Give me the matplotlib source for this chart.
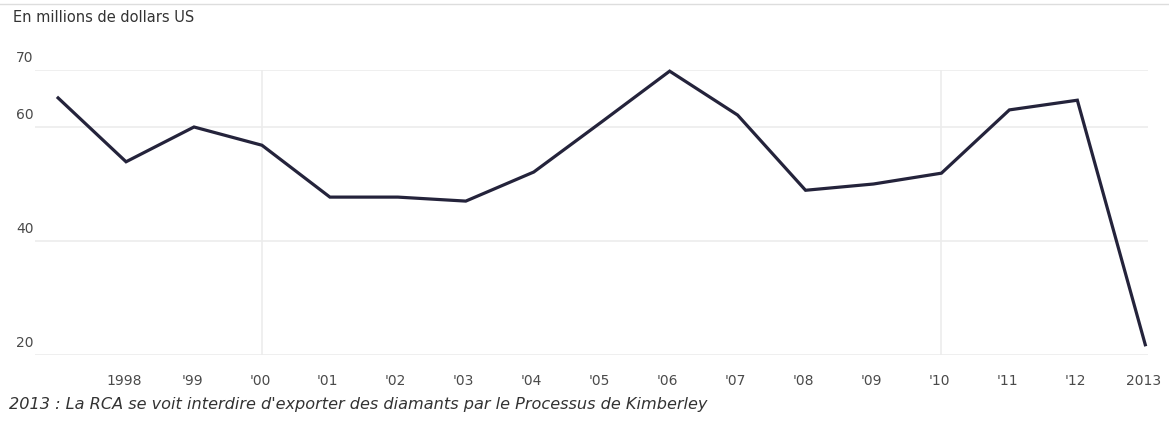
import matplotlib.pyplot as plt
import matplotlib.transforms as mtransforms

# Exportations de diamants de la RCA, en millions de dollars US
years = [1997, 1998, 1999, 2000, 2001, 2002, 2003, 2004, 2005,
         2006, 2007, 2008, 2009, 2010, 2011, 2012, 2013]
values = [65.1, 53.9, 60.0, 56.8, 47.7, 47.7, 47.0, 52.1, 60.9,
          69.8, 62.1, 48.9, 50.0, 51.9, 63.0, 64.7, 21.8]
xtick_labels = ["1998", "'99", "'00", "'01", "'02", "'03", "'04", "'05",
                "'06", "'07", "'08", "'09", "'10", "'11", "'12", "2013"]
ytick_values = [20, 40, 60, 70]

W, H = 1169, 425
fig = plt.figure(figsize=(W / 100, H / 100), dpi=100)
ax = fig.add_axes([35 / W, 70 / H, (1148 - 35) / W, 285 / H])

# grid lines
for v in ytick_values:
    ax.axhline(v, color='#ececec', lw=1.2, zorder=0)
for yr in [2000, 2010]:
    ax.axvline(yr, color='#ececec', lw=1.2, zorder=0)

ax.plot(years, values, color='#24233b', lw=2.3, solid_joinstyle='miter',
        clip_on=False, zorder=3)

ax.set_xlim(1996.66, 2013.04)
ax.set_ylim(20, 70)
for s in ax.spines.values():
    s.set_visible(False)
ax.set_xticks([])
ax.set_yticks([])

# y labels sit above their grid line, at the left edge
ytrans = mtransforms.blended_transform_factory(fig.transFigure, ax.transData)
for v in ytick_values:
    ax.text(16 / W, v + 2.1, str(v), transform=ytrans, fontsize=10,
            color='#4a4a4a', ha='left', va='center')

# x labels
xtrans = mtransforms.blended_transform_factory(ax.transData, fig.transFigure)
for yr, lab in zip(years[1:], xtick_labels):
    ax.text(yr - 0.03, 1 - 381 / H, lab, transform=xtrans, fontsize=10,
            color='#4a4a4a', ha='center', va='center')

fig.text(13 / W, 1 - 18 / H, "En millions de dollars US", fontsize=10.5,
         color='#333333', ha='left', va='center')
fig.text(9 / W, 1 - 405 / H,
         "2013 : La RCA se voit interdire d'exporter des diamants par le Processus de Kimberley",
         fontsize=11.6, color='#333333', ha='left', va='center', style='italic')

# thin rule at the top
fig.add_artist(plt.Line2D([0, 1], [1 - 4 / H, 1 - 4 / H],
                          transform=fig.transFigure, color='#dddddd', lw=1))

fig.savefig('out.png', dpi=100)
